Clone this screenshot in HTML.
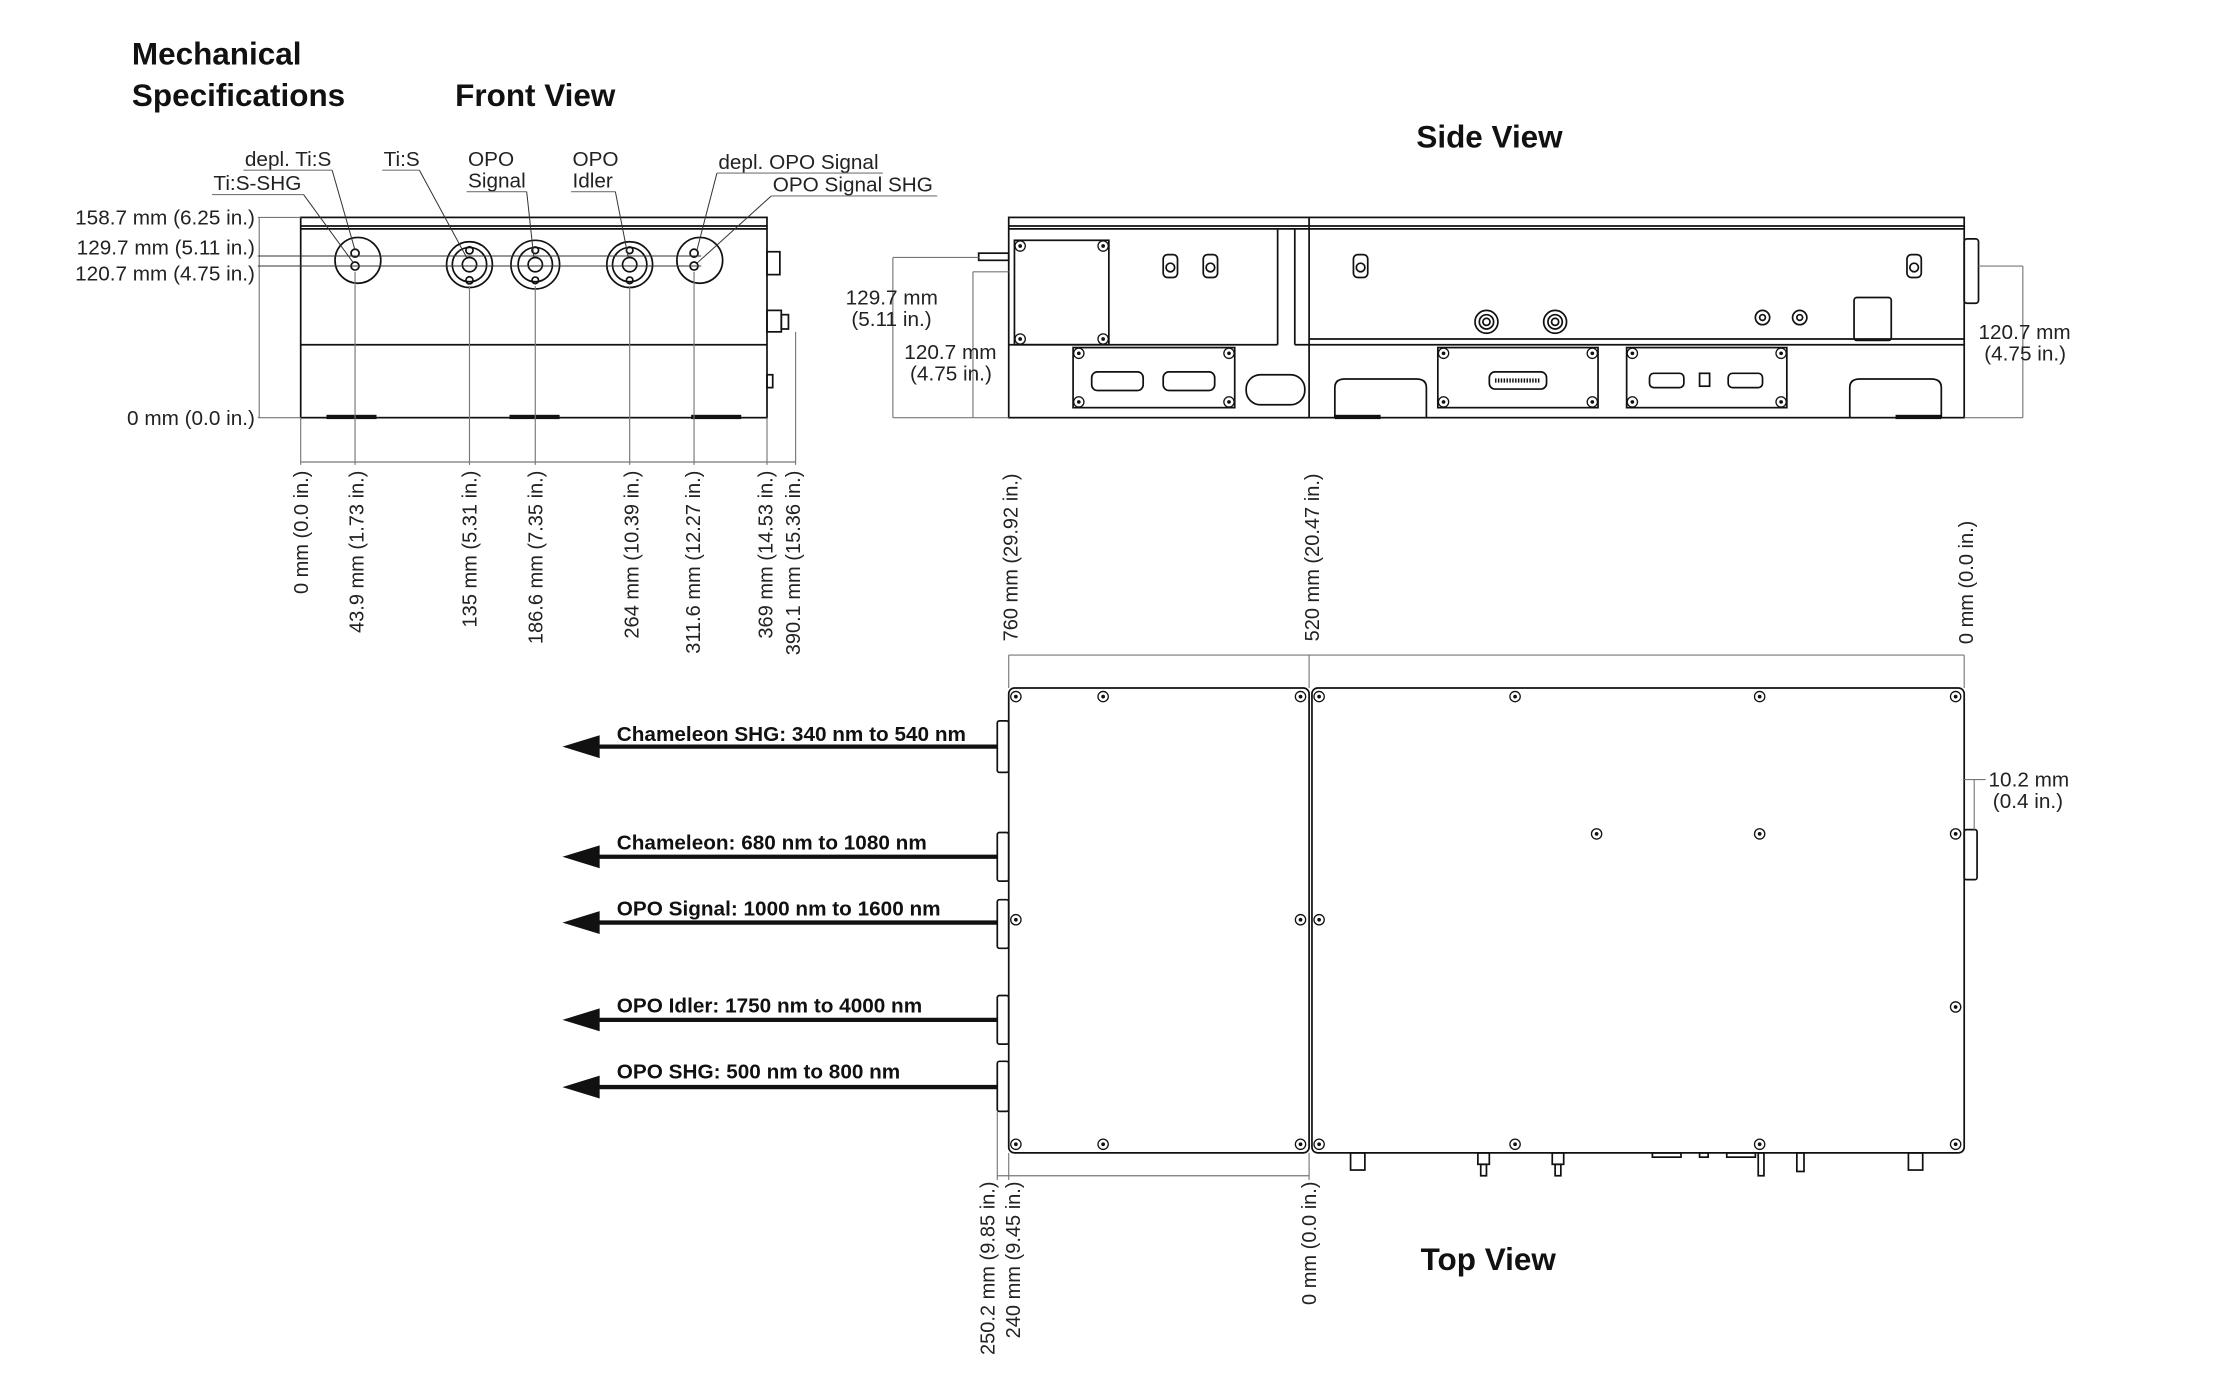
<!DOCTYPE html>
<html><head><meta charset="utf-8"><style>
html,body{margin:0;padding:0;background:#fff;}
svg{display:block;}
.t{font-family:"Liberation Sans Narrow","Liberation Sans",sans-serif;font-size:14.5px;fill:#222;}
.r{font-family:"Liberation Sans",sans-serif;font-size:14px;fill:#222;}
.h{font-family:"Liberation Sans Narrow","Liberation Sans",sans-serif;font-weight:bold;font-size:22px;fill:#111;}
.b{font-family:"Liberation Sans",sans-serif;font-weight:bold;font-size:14.5px;fill:#111;}
.o{fill:none;stroke:#111;stroke-width:1.2;}
.d{fill:none;stroke:#777;stroke-width:0.8;}
.l{fill:none;stroke:#333;stroke-width:0.7;}
</style></head><body>
<svg width="2232" height="1376" viewBox="0 0 1560 962" xmlns="http://www.w3.org/2000/svg">
<defs>
<g id="sc"><circle r="3.6" fill="#fff" stroke="#111" stroke-width="0.9"/><circle r="1.3" fill="#111"/></g>
</defs>
<!-- Titles -->
<text class="h" x="92" y="45">Mechanical</text>
<text class="h" x="92" y="74">Specifications</text>
<text class="h" x="318" y="74">Front View</text>
<text class="h" x="990" y="103">Side View</text>
<text class="h" x="993" y="888">Top View</text>

<!-- FRONT VIEW -->
<rect class="o" x="210" y="152" width="326" height="140"/>
<line class="o" x1="210" y1="158" x2="536" y2="158"/>
<line class="o" x1="210" y1="160" x2="536" y2="160"/>
<line class="o" x1="210" y1="241" x2="536" y2="241" stroke-width="1.8"/>
<rect x="228" y="290" width="35" height="3" fill="#111"/>
<rect x="356" y="290" width="35" height="3" fill="#111"/>
<rect x="483" y="290" width="35" height="3" fill="#111"/>
<rect class="o" x="536" y="176" width="9" height="16"/>
<rect class="o" x="536" y="217" width="10" height="15"/>
<rect class="o" x="546" y="220" width="5" height="10"/>
<rect class="o" x="536" y="262" width="4" height="9"/>
<!-- lenses -->
<circle class="o" cx="250" cy="182" r="16"/>
<circle class="o" cx="248" cy="177" r="2.8"/><circle class="o" cx="248" cy="186" r="2.8"/>
<circle class="o" cx="328" cy="185" r="16"/><circle class="o" cx="328" cy="185" r="12"/>
<circle class="o" cx="328" cy="185" r="5"/><circle class="o" cx="328" cy="175" r="2.5"/><circle class="o" cx="328" cy="196" r="2.5"/>
<circle class="o" cx="374" cy="185" r="17"/><circle class="o" cx="374" cy="185" r="12"/>
<circle class="o" cx="374" cy="185" r="5"/><circle class="o" cx="374" cy="175" r="2.3"/><circle class="o" cx="374" cy="196" r="2.3"/>
<circle class="o" cx="440" cy="185" r="16"/><circle class="o" cx="440" cy="185" r="12"/>
<circle class="o" cx="440" cy="185" r="5"/><circle class="o" cx="440" cy="175" r="2.3"/><circle class="o" cx="440" cy="196" r="2.3"/>
<circle class="o" cx="489" cy="182" r="16"/>
<circle class="o" cx="485" cy="177" r="2.8"/><circle class="o" cx="485" cy="186" r="2.8"/>
<!-- horizontal dims -->
<line class="d" x1="181" y1="152" x2="181" y2="292"/>
<line class="d" x1="180" y1="152" x2="210" y2="152"/>
<line class="l" x1="180" y1="179" x2="490" y2="179"/>
<line class="l" x1="180" y1="186" x2="490" y2="186"/>
<line class="d" x1="180" y1="292" x2="210" y2="292"/>
<text class="t" x="178" y="157" text-anchor="end">158.7 mm (6.25 in.)</text>
<text class="t" x="178" y="178" text-anchor="end">129.7 mm (5.11 in.)</text>
<text class="t" x="178" y="196" text-anchor="end">120.7 mm (4.75 in.)</text>
<text class="t" x="178" y="297" text-anchor="end">0 mm (0.0 in.)</text>
<!-- leader labels -->
<text class="t" x="171" y="116">depl. Ti:S</text><line class="d" x1="170" y1="119" x2="232" y2="119"/>
<line class="l" x1="232" y1="119" x2="248" y2="175"/>
<text class="t" x="149" y="133">Ti:S-SHG</text><line class="d" x1="148" y1="136" x2="212" y2="136"/>
<line class="l" x1="212" y1="136" x2="247" y2="184"/>
<text class="t" x="268" y="116">Ti:S</text><line class="d" x1="267" y1="119" x2="293" y2="119"/>
<line class="l" x1="293" y1="119" x2="326" y2="180"/>
<text class="t" x="327" y="116">OPO</text><text class="t" x="327" y="131">Signal</text>
<line class="d" x1="326" y1="134" x2="368" y2="134"/><line class="l" x1="368" y1="134" x2="373" y2="180"/>
<text class="t" x="400" y="116">OPO</text><text class="t" x="400" y="131">Idler</text>
<line class="d" x1="399" y1="134" x2="430" y2="134"/><line class="l" x1="430" y1="134" x2="439" y2="180"/>
<text class="t" x="502" y="118">depl. OPO Signal</text><line class="d" x1="501" y1="121" x2="617" y2="121"/>
<line class="l" x1="501" y1="121" x2="487" y2="175"/>
<text class="t" x="540" y="134">OPO Signal SHG</text><line class="d" x1="539" y1="137" x2="655" y2="137"/>
<line class="l" x1="539" y1="137" x2="487" y2="184"/>
<!-- bottom dims -->
<line class="d" x1="210" y1="323" x2="556" y2="323"/>
<line class="d" x1="210" y1="292" x2="210" y2="325"/>
<line class="d" x1="248" y1="190" x2="248" y2="325"/>
<line class="d" x1="328" y1="200" x2="328" y2="325"/>
<line class="d" x1="374" y1="200" x2="374" y2="325"/>
<line class="d" x1="440" y1="200" x2="440" y2="325"/>
<line class="d" x1="485" y1="190" x2="485" y2="325"/>
<line class="d" x1="536" y1="292" x2="536" y2="325"/>
<line class="d" x1="556" y1="232" x2="556" y2="325"/>
<g class="r">
<text transform="translate(215,329) rotate(-90)" text-anchor="end">0 mm (0.0 in.)</text>
<text transform="translate(254,329) rotate(-90)" text-anchor="end">43.9 mm (1.73 in.)</text>
<text transform="translate(333,329) rotate(-90)" text-anchor="end">135 mm (5.31 in.)</text>
<text transform="translate(379,329) rotate(-90)" text-anchor="end">186.6 mm (7.35 in.)</text>
<text transform="translate(446,329) rotate(-90)" text-anchor="end">264 mm (10.39 in.)</text>
<text transform="translate(489,329) rotate(-90)" text-anchor="end">311.6 mm (12.27 in.)</text>
<text transform="translate(540,329) rotate(-90)" text-anchor="end">369 mm (14.53 in.)</text>
<text transform="translate(559,329) rotate(-90)" text-anchor="end">390.1 mm (15.36 in.)</text>
</g>

<!-- SIDE VIEW -->
<rect class="o" x="705" y="152" width="668" height="140"/>
<line class="o" x1="705" y1="158" x2="1373" y2="158"/>
<line class="o" x1="705" y1="160" x2="1373" y2="160"/>
<line class="o" x1="893" y1="160" x2="893" y2="241"/>
<line class="o" x1="905" y1="160" x2="905" y2="241"/>
<line class="o" x1="915" y1="152" x2="915" y2="292"/>
<line class="o" x1="705" y1="241" x2="893" y2="241"/>
<line class="o" x1="905" y1="241" x2="1373" y2="241"/>
<line class="o" x1="915" y1="237" x2="1373" y2="237"/>
<rect class="o" x="684" y="177" width="21" height="5"/>
<rect class="o" x="1373" y="167" width="10" height="45" rx="2"/>
<!-- left panel -->
<rect class="o" x="709" y="168" width="66" height="73"/>
<use href="#sc" x="713" y="172"/><use href="#sc" x="771" y="172"/><use href="#sc" x="713" y="237"/><use href="#sc" x="771" y="237"/>
<rect class="o" x="750" y="243" width="113" height="42"/>
<use href="#sc" x="754" y="247"/><use href="#sc" x="859" y="247"/><use href="#sc" x="754" y="281"/><use href="#sc" x="859" y="281"/>
<rect class="o" x="763" y="260" width="36" height="13" rx="4"/><rect class="o" x="813" y="260" width="36" height="13" rx="4"/>
<rect class="o" x="871" y="262" width="41" height="21" rx="10"/>
<!-- connectors upper -->
<g class="o">
<rect x="813" y="178" width="10" height="16" rx="3"/><circle cx="818" cy="187" r="3"/>
<rect x="841" y="178" width="10" height="16" rx="3"/><circle cx="846" cy="187" r="3"/>
<rect x="946" y="178" width="10" height="16" rx="3"/><circle cx="951" cy="187" r="3"/>
<rect x="1333" y="178" width="10" height="16" rx="3"/><circle cx="1338" cy="187" r="3"/>
<circle cx="1039" cy="225" r="8"/><circle cx="1039" cy="225" r="5"/><circle cx="1039" cy="225" r="2.5"/>
<circle cx="1087" cy="225" r="8"/><circle cx="1087" cy="225" r="5"/><circle cx="1087" cy="225" r="2.5"/>
<circle cx="1232" cy="222" r="5"/><circle cx="1232" cy="222" r="2"/>
<circle cx="1258" cy="222" r="5"/><circle cx="1258" cy="222" r="2"/>
<rect x="1296" y="208" width="26" height="30" rx="2"/>
</g>
<!-- lower right -->
<path class="o" d="M933,292 V271 Q933,265 940,265 H990 Q997,265 997,271 V292"/>
<path class="o" d="M1293,292 V271 Q1293,265 1300,265 H1350 Q1357,265 1357,271 V292"/>
<rect x="933" y="290" width="32" height="3" fill="#111"/><rect x="1325" y="290" width="32" height="3" fill="#111"/>
<rect class="o" x="1005" y="243" width="112" height="42"/>
<use href="#sc" x="1009" y="247"/><use href="#sc" x="1113" y="247"/><use href="#sc" x="1009" y="281"/><use href="#sc" x="1113" y="281"/>
<rect class="o" x="1041" y="260" width="40" height="12" rx="4"/>
<line x1="1045" y1="266" x2="1077" y2="266" stroke="#111" stroke-width="3" stroke-dasharray="1 1"/>
<rect class="o" x="1137" y="243" width="112" height="42"/>
<use href="#sc" x="1141" y="247"/><use href="#sc" x="1245" y="247"/><use href="#sc" x="1141" y="281"/><use href="#sc" x="1245" y="281"/>
<rect class="o" x="1153" y="261" width="24" height="10" rx="3"/><rect class="o" x="1188" y="261" width="7" height="9"/>
<rect class="o" x="1208" y="261" width="24" height="10" rx="3"/>
<!-- side dims -->
<line class="d" x1="624" y1="180" x2="684" y2="180"/>
<line class="d" x1="624" y1="180" x2="624" y2="292"/>
<line class="d" x1="680" y1="190" x2="705" y2="190"/>
<line class="d" x1="680" y1="190" x2="680" y2="292"/>
<line class="d" x1="624" y1="292" x2="705" y2="292"/>
<text class="t" x="591" y="213">129.7 mm</text><text class="t" x="595" y="228">(5.11 in.)</text>
<text class="t" x="632" y="251">120.7 mm</text><text class="t" x="636" y="266">(4.75 in.)</text>
<line class="d" x1="1383" y1="186" x2="1414" y2="186"/>
<line class="d" x1="1414" y1="186" x2="1414" y2="292"/>
<line class="d" x1="1373" y1="292" x2="1414" y2="292"/>
<text class="t" x="1383" y="237">120.7 mm</text><text class="t" x="1387" y="252">(4.75 in.)</text>

<!-- TOP VIEW -->
<line class="d" x1="705" y1="458" x2="1373" y2="458"/>
<line class="d" x1="705" y1="458" x2="705" y2="481"/>
<line class="d" x1="915" y1="458" x2="915" y2="481"/>
<line class="d" x1="1373" y1="458" x2="1373" y2="481"/>
<g class="r">
<text transform="translate(711,331) rotate(-90)" text-anchor="end">760 mm (29.92 in.)</text>
<text transform="translate(922,331) rotate(-90)" text-anchor="end">520 mm (20.47 in.)</text>
<text transform="translate(1379,364) rotate(-90)" text-anchor="end">0 mm (0.0 in.)</text>
</g>
<rect class="o" x="705" y="481" width="210" height="325" rx="4"/>
<rect class="o" x="917" y="481" width="456" height="325" rx="4"/>
<g>
<use href="#sc" x="710" y="487"/><use href="#sc" x="771" y="487"/><use href="#sc" x="909" y="487"/>
<use href="#sc" x="710" y="643"/><use href="#sc" x="909" y="643"/>
<use href="#sc" x="710" y="800"/><use href="#sc" x="771" y="800"/><use href="#sc" x="909" y="800"/>
<use href="#sc" x="922" y="487"/><use href="#sc" x="1059" y="487"/><use href="#sc" x="1230" y="487"/><use href="#sc" x="1367" y="487"/>
<use href="#sc" x="1116" y="583"/><use href="#sc" x="1230" y="583"/><use href="#sc" x="1367" y="583"/>
<use href="#sc" x="922" y="643"/><use href="#sc" x="1367" y="704"/>
<use href="#sc" x="922" y="800"/><use href="#sc" x="1059" y="800"/><use href="#sc" x="1230" y="800"/><use href="#sc" x="1367" y="800"/>
</g>
<g class="o">
<rect x="697" y="504" width="8" height="36" rx="1.5"/>
<rect x="697" y="582" width="8" height="34" rx="1.5"/>
<rect x="697" y="629" width="8" height="34" rx="1.5"/>
<rect x="697" y="696" width="8" height="34" rx="1.5"/>
<rect x="697" y="742" width="8" height="35" rx="1.5"/>
<rect x="1373" y="580" width="9" height="35" rx="1.5"/>
</g>
<line class="d" x1="1373" y1="545" x2="1388" y2="545"/>
<line class="d" x1="1380" y1="545" x2="1380" y2="580"/>
<text class="t" x="1390" y="550">10.2 mm</text><text class="t" x="1393" y="565">(0.4 in.)</text>
<!-- arrows -->
<g stroke="#111" stroke-width="3">
<line x1="415" y1="522" x2="697" y2="522"/>
<line x1="415" y1="599" x2="697" y2="599"/>
<line x1="415" y1="645" x2="697" y2="645"/>
<line x1="415" y1="713" x2="697" y2="713"/>
<line x1="415" y1="760" x2="697" y2="760"/>
</g>
<g fill="#111">
<polygon points="393,522 419,514 419,530"/>
<polygon points="393,599 419,591 419,607"/>
<polygon points="393,645 419,637 419,653"/>
<polygon points="393,713 419,705 419,721"/>
<polygon points="393,760 419,752 419,768"/>
</g>
<text class="b" x="431" y="518">Chameleon SHG: 340 nm to 540 nm</text>
<text class="b" x="431" y="594">Chameleon: 680 nm to 1080 nm</text>
<text class="b" x="431" y="640">OPO Signal: 1000 nm to 1600 nm</text>
<text class="b" x="431" y="708">OPO Idler: 1750 nm to 4000 nm</text>
<text class="b" x="431" y="754">OPO SHG: 500 nm to 800 nm</text>
<!-- bottom connectors -->
<g class="o" stroke-width="0.9">
<rect x="944" y="806" width="10" height="12"/><rect x="1033" y="806" width="8" height="8"/><rect x="1035" y="814" width="4" height="8"/>
<rect x="1085" y="806" width="8" height="8"/><rect x="1087" y="814" width="4" height="8"/>
<rect x="1155" y="806" width="20" height="3"/><rect x="1188" y="806" width="6" height="3"/>
<rect x="1207" y="806" width="20" height="3"/><rect x="1229" y="806" width="4" height="16"/>
<rect x="1256" y="806" width="5" height="13"/><rect x="1334" y="806" width="10" height="12"/>
</g>
<line class="d" x1="697" y1="822" x2="915" y2="822"/>
<line class="d" x1="697" y1="777" x2="697" y2="825"/>
<line class="d" x1="705" y1="806" x2="705" y2="825"/>
<line class="d" x1="915" y1="806" x2="915" y2="825"/>
<g class="r">
<text transform="translate(695,826) rotate(-90)" text-anchor="end">250.2 mm (9.85 in.)</text>
<text transform="translate(713,826) rotate(-90)" text-anchor="end">240 mm (9.45 in.)</text>
<text transform="translate(920,826) rotate(-90)" text-anchor="end">0 mm (0.0 in.)</text>
</g>
</svg>
</body></html>
